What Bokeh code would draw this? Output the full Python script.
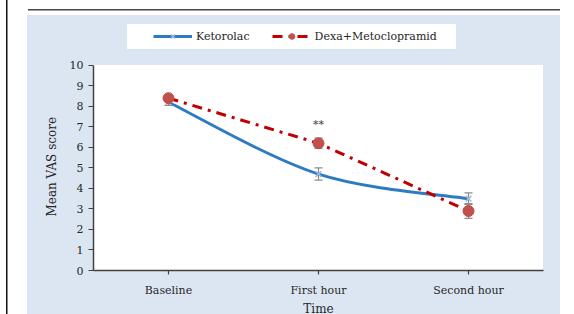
from bokeh.plotting import figure
from bokeh.models import (Range1d, FixedTicker, Whisker, TeeHead, ColumnDataSource,
                          Legend, LegendItem, Title)
from bokeh.core.properties import value
from bokeh.embed import file_html
from bokeh.resources import INLINE

# ---- data ----
categories = ["Baseline", "First hour", "Second hour"]
ketorolac = [8.2, 4.7, 3.5]
ketorolac_err = [0.15, 0.3, 0.28]
dexa = [8.4, 6.2, 2.9]
dexa_err = [0.15, 0.25, 0.36]
y_ticks = [0, 1, 2, 3, 4, 5, 6, 7, 8, 9, 10]
annot_text = "**"
annot_y = 7.1

FONT = "DejaVu Serif"
xs = [i + 0.5 for i in range(len(categories))]

# layout (pixels): plot area 93..543 x 65..271; frame extended up to 20 to hold the legend
H = 318
FR_TOP, PA_TOP, PA_BOT = 20, 65, 271
y_max = y_ticks[-1] * (PA_BOT - FR_TOP) / (PA_BOT - PA_TOP)

p = figure(width=574, height=H, output_backend="svg", toolbar_location=None,
           x_range=Range1d(0, len(categories)), y_range=Range1d(0, y_max),
           min_border_left=93, min_border_right=31, min_border_top=FR_TOP,
           min_border_bottom=H - PA_BOT)
p.margin = (0, 0, 314 - H, 0)
p.border_fill_alpha = 0
p.background_fill_alpha = 0
p.outline_line_color = None
p.grid.visible = False
# page background: dark rules, light-blue chart panel, white plot area and legend box
p.styles = {
    "background": ("linear-gradient(#454545,#454545) 28px 8.5px / 532px 1.5px no-repeat, "
                   "linear-gradient(#111111,#111111) 6px 0px / 1.5px 318px no-repeat, "
                   "linear-gradient(#ffffff,#ffffff) 127px 24px / 329px 25px no-repeat, "
                   "linear-gradient(#ffffff,#ffffff) 93px 65px / 450px 206px no-repeat, "
                   "linear-gradient(#dce6f2,#dce6f2) 27px 15px / 533px 303px no-repeat, "
                   "#ffffff")
}

# error bars
src_k = ColumnDataSource(dict(x=xs, upper=[v + e for v, e in zip(ketorolac, ketorolac_err)],
                              lower=[v - e for v, e in zip(ketorolac, ketorolac_err)]))
src_d = ColumnDataSource(dict(x=xs, upper=[v + e for v, e in zip(dexa, dexa_err)],
                              lower=[v - e for v, e in zip(dexa, dexa_err)]))
for s in (src_k, src_d):
    p.add_layout(Whisker(source=s, base="x", upper="upper", lower="lower",
                         line_color="#8c8c8c", line_width=1.2,
                         upper_head=TeeHead(size=8, line_color="#8c8c8c", line_width=1.2),
                         lower_head=TeeHead(size=8, line_color="#8c8c8c", line_width=1.2)))

BLUE = "#2e7bc4"
# smoothed Ketorolac curve (Catmull-Rom style control points from the data)
px = xs
py = ketorolac
n = len(px)
x0s, y0s, x1s, y1s, cx0, cy0, cx1, cy1 = [], [], [], [], [], [], [], []
for i in range(n - 1):
    pm = max(i - 1, 0)
    pp = min(i + 2, n - 1)
    x0s.append(px[i]); y0s.append(py[i]); x1s.append(px[i + 1]); y1s.append(py[i + 1])
    cx0.append(px[i] + (px[i + 1] - px[pm]) / 6); cy0.append(py[i] + (py[i + 1] - py[pm]) / 6)
    cx1.append(px[i + 1] - (px[pp] - px[i]) / 6); cy1.append(py[i + 1] - (py[pp] - py[i]) / 6)
p.bezier(x0=x0s, y0=y0s, x1=x1s, y1=y1s, cx0=cx0, cy0=cy0, cx1=cx1, cy1=cy1,
         line_color=BLUE, line_width=3)
# one-point line: draws nothing on the plot, only provides the legend swatch
k_leg_line = p.line(x=xs[:1], y=ketorolac[:1], line_color=BLUE, line_width=3)
k_mark = p.scatter(xs, ketorolac, marker="x", size=8, line_color="#9bb7d9", line_width=1.5)

# Dexa+Metoclopramid
d_line = p.line(xs, dexa, line_color="#c00000", line_width=3, line_dash="10 6 3 6")
d_mark = p.scatter(xs, dexa, marker="circle", size=11, fill_color="#c0504d",
                   line_color="#c0504d")

p.text(x=[xs[1]], y=[annot_y], text=[annot_text], text_align="center", text_baseline="middle",
       text_font=value(FONT), text_font_size="11px", text_color="#404040")

legend = Legend(items=[LegendItem(label="Ketorolac", renderers=[k_leg_line, k_mark]),
                       LegendItem(label="Dexa+Metoclopramid", renderers=[d_line, d_mark])],
                orientation="horizontal", location=(60, 227), padding=0, margin=0,
                spacing=22, glyph_width=39, glyph_height=14, label_standoff=4,
                label_text_font="'DejaVu Serif'", label_text_font_size="11px",
                label_text_color="#262626",
                background_fill_alpha=0, border_line_alpha=0)
p.add_layout(legend, "center")

# axes
p.xaxis.ticker = FixedTicker(ticks=xs)
p.xaxis.major_label_overrides = {x: c for x, c in zip(xs, categories)}
p.yaxis.ticker = FixedTicker(ticks=y_ticks)
p.yaxis.bounds = (y_ticks[0], y_ticks[-1])
p.xaxis.axis_label = "Time"
for ax in (p.xaxis, p.yaxis):
    ax.axis_line_color = "#404040"
    ax.axis_line_width = 1.5
    ax.major_tick_line_color = "#404040"
    ax.major_tick_line_width = 1.2
    ax.major_tick_in = 0
    ax.major_tick_out = 5
    ax.minor_tick_line_color = None
    ax.major_label_text_font = FONT
    ax.major_label_text_font_size = "11px"
    ax.major_label_text_color = "#262626"
    ax.axis_label_text_font = FONT
    ax.axis_label_text_font_style = "normal"
    ax.axis_label_text_color = "#262626"
p.xaxis.major_tick_out = 4
p.xaxis.major_label_standoff = 9
p.xaxis.axis_label_text_font_size = "12px"
p.xaxis.axis_label_standoff = 2
p.yaxis.major_label_standoff = 5

# y-axis title, centred on the 0..10 plot area rather than on the extended frame
p.add_layout(Title(text="Mean VAS score", align="left", offset=54, standoff=16,
                   text_font=FONT, text_font_size="12px", text_font_style="normal",
                   text_color="#262626"), "left")

open("out.html", "w").write(file_html(p, INLINE))
